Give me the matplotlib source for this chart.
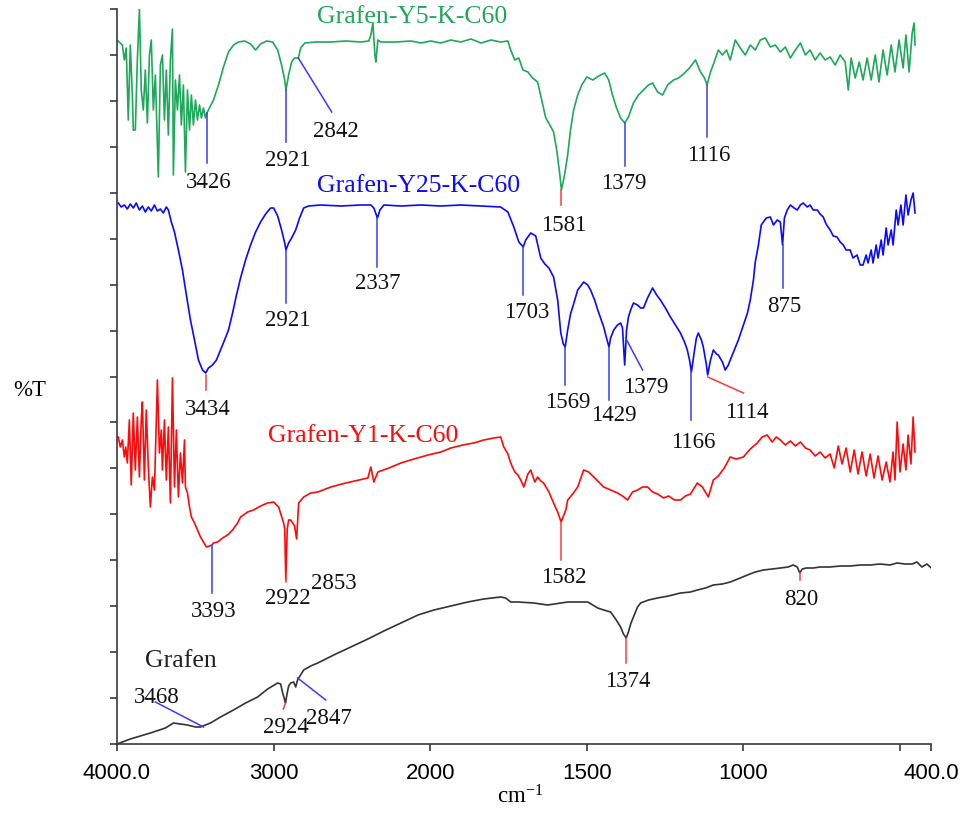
import numpy as np
import matplotlib
matplotlib.use("Agg")
import matplotlib.pyplot as plt

# FTIR spectra, wavenumber (cm-1) and offset transmittance (a.u.)
green_w = [4000, 3979, 3966, 3953, 3941, 3928, 3915, 3902, 3896, 3883, 3870, 3857, 3845, 3832, 3819, 3806,
           3793, 3781, 3768, 3755, 3736, 3723, 3710, 3697, 3685, 3672, 3659, 3646, 3640, 3627, 3614, 3601,
           3589, 3576, 3563, 3550, 3537, 3525, 3512, 3499, 3486, 3473, 3461, 3448, 3435, 3426, 3384, 3352,
           3320, 3288, 3256, 3224, 3185, 3147, 3115, 3083, 3045, 3006, 2974, 2949, 2929, 2921, 2904, 2885,
           2866, 2842, 2827, 2801, 2731, 2635, 2539, 2443, 2392, 2379, 2366, 2353, 2347, 2334, 2315, 2219,
           2123, 2059, 1998, 1966, 1934, 1902, 1870, 1838, 1806, 1775, 1752, 1743, 1730, 1717, 1704, 1688,
           1673, 1657, 1644, 1631, 1618, 1606, 1596, 1586, 1581, 1571, 1561, 1552, 1542, 1529, 1516, 1500,
           1481, 1462, 1443, 1430, 1418, 1405, 1392, 1379, 1367, 1351, 1335, 1319, 1303, 1290, 1274, 1258,
           1242, 1223, 1207, 1191, 1172, 1153, 1137, 1124, 1116, 1105, 1093, 1080, 1067, 1054, 1042, 1026,
           1010, 994, 978, 962, 946, 930, 914, 898, 882, 866, 850, 834, 818, 802, 787, 771,
           755, 739, 723, 707, 691, 675, 665, 656, 643, 630, 618, 605, 592, 579, 567, 554,
           541, 528, 516, 503, 490, 481, 471, 461, 455, 452]
green_t = [704, 701, 699, 684, 696, 624, 699, 649, 614, 614, 684, 735, 654, 634, 674, 621,
           689, 704, 634, 669, 567, 679, 689, 624, 674, 609, 684, 715, 569, 664, 634, 669,
           619, 659, 572, 654, 614, 649, 619, 644, 624, 639, 626, 636, 626, 631, 644, 659,
           677, 692, 699, 702, 703, 700, 694, 700, 703, 702, 694, 679, 664, 654, 669, 682,
           686, 686, 696, 701, 702, 702, 703, 702, 703, 709, 721, 689, 682, 704, 702, 702,
           703, 701, 703, 701, 704, 702, 705, 701, 704, 702, 703, 694, 684, 686, 674, 672,
           666, 662, 644, 626, 619, 612, 594, 569, 554, 569, 589, 614, 634, 649, 659, 667,
           664, 668, 671, 664, 649, 636, 626, 621, 627, 641, 649, 654, 659, 661, 652, 649,
           659, 664, 666, 670, 676, 684, 672, 666, 659, 672, 682, 694, 689, 694, 684, 704,
           696, 689, 699, 694, 704, 706, 697, 699, 692, 697, 686, 694, 701, 689, 694, 684,
           691, 684, 687, 679, 689, 682, 654, 686, 666, 682, 664, 686, 664, 689, 662, 694,
           669, 699, 672, 704, 676, 709, 672, 711, 721, 699]

blue_w = [3992, 3973, 3953, 3934, 3915, 3896, 3877, 3857, 3838, 3819, 3800, 3781, 3761, 3742, 3723, 3704,
          3685, 3672, 3653, 3633, 3608, 3582, 3557, 3531, 3505, 3480, 3454, 3434, 3416, 3390, 3365, 3339,
          3313, 3288, 3262, 3237, 3211, 3179, 3147, 3115, 3083, 3051, 3019, 3000, 2974, 2949, 2929, 2921,
          2904, 2885, 2859, 2834, 2808, 2776, 2699, 2571, 2443, 2379, 2360, 2337, 2321, 2296, 2187, 2059,
          1966, 1902, 1838, 1775, 1752, 1733, 1717, 1703, 1695, 1679, 1663, 1647, 1634, 1621, 1606, 1593,
          1583, 1575, 1569, 1561, 1552, 1545, 1529, 1510, 1497, 1488, 1475, 1465, 1456, 1446, 1437, 1429,
          1424, 1414, 1402, 1392, 1386, 1379, 1373, 1367, 1360, 1351, 1338, 1328, 1319, 1306, 1290, 1277,
          1265, 1249, 1233, 1217, 1201, 1188, 1179, 1172, 1166, 1156, 1150, 1144, 1134, 1128, 1118, 1114,
          1105, 1096, 1086, 1080, 1067, 1058, 1048, 1042, 1029, 1016, 1003, 987, 978, 968, 962, 952,
          943, 936, 927, 914, 904, 892, 882, 875, 869, 860, 850, 838, 828, 818, 809, 796,
          787, 777, 764, 755, 745, 736, 723, 713, 701, 691, 681, 672, 659, 650, 637, 627,
          618, 608, 602, 592, 586, 576, 570, 560, 554, 544, 538, 528, 522, 512, 506, 497,
          490, 481, 474, 465, 458, 452]
blue_t = [541, 537, 539, 535, 540, 536, 541, 534, 538, 532, 537, 533, 539, 533, 535, 531,
          537, 534, 522, 512, 494, 474, 449, 424, 404, 384, 374, 371, 376, 379, 384, 394,
          404, 414, 431, 449, 466, 484, 499, 512, 522, 530, 536, 536, 528, 514, 501, 494,
          501, 506, 514, 526, 536, 538, 539, 538, 539, 539, 536, 526, 534, 539, 538, 539,
          538, 539, 538, 537, 532, 517, 502, 497, 504, 511, 508, 486, 480, 476, 467, 444,
          411, 400, 397, 414, 430, 437, 454, 462, 459, 454, 444, 434, 426, 417, 406, 397,
          406, 414, 419, 421, 416, 379, 414, 427, 434, 441, 439, 436, 436, 446, 456, 449,
          444, 436, 427, 419, 411, 402, 394, 384, 372, 394, 406, 411, 404, 397, 379, 369,
          384, 394, 390, 389, 382, 374, 379, 384, 394, 404, 416, 431, 444, 464, 482, 499,
          519, 522, 526, 527, 519, 524, 522, 499, 526, 534, 539, 536, 534, 539, 541, 537,
          539, 534, 534, 530, 527, 520, 514, 508, 507, 502, 499, 494, 494, 486, 489, 479,
          479, 489, 481, 494, 481, 499, 486, 504, 489, 516, 499, 514, 499, 534, 519, 539,
          519, 549, 529, 544, 551, 531]

red_w = [4000, 3992, 3979, 3966, 3953, 3944, 3934, 3921, 3909, 3896, 3883, 3870, 3857, 3845, 3838, 3825,
         3813, 3800, 3787, 3774, 3761, 3742, 3729, 3717, 3710, 3697, 3685, 3672, 3659, 3646, 3633, 3621,
         3608, 3595, 3582, 3569, 3563, 3550, 3537, 3525, 3505, 3486, 3467, 3448, 3429, 3393, 3384, 3358,
         3326, 3294, 3262, 3230, 3211, 3166, 3128, 3083, 3038, 3000, 2968, 2936, 2929, 2922, 2913, 2904,
         2891, 2866, 2853, 2840, 2808, 2763, 2718, 2635, 2539, 2398, 2379, 2360, 2334, 2264, 2187, 2104,
         2014, 1966, 1934, 1896, 1861, 1829, 1797, 1775, 1765, 1752, 1743, 1730, 1720, 1711, 1701, 1688,
         1679, 1666, 1657, 1647, 1638, 1621, 1606, 1593, 1582, 1567, 1561, 1545, 1529, 1510, 1494, 1478,
         1462, 1446, 1424, 1402, 1386, 1370, 1354, 1338, 1322, 1306, 1290, 1274, 1255, 1239, 1220, 1201,
         1185, 1169, 1147, 1131, 1112, 1096, 1080, 1061, 1042, 1023, 1000, 978, 956, 940, 924, 908,
         895, 882, 866, 850, 834, 818, 802, 787, 771, 755, 739, 723, 710, 697, 685, 672,
         659, 646, 634, 621, 608, 595, 583, 570, 557, 544, 532, 522, 516, 509, 500, 490,
         481, 474, 465, 458, 452]
red_t = [307, 307, 297, 304, 287, 297, 281, 324, 259, 331, 274, 327, 267, 324, 342, 264,
         334, 277, 237, 267, 254, 364, 291, 314, 274, 324, 264, 317, 241, 366, 257, 314,
         247, 291, 261, 304, 257, 251, 237, 227, 221, 214, 207, 202, 197, 199, 201, 202,
         206, 209, 214, 221, 227, 232, 234, 238, 241, 242, 237, 221, 215, 164, 215, 224,
         224, 218, 205, 241, 247, 251, 252, 257, 261, 266, 277, 262, 272, 276, 281, 285,
         289, 292, 296, 299, 301, 304, 306, 307, 297, 290, 281, 272, 269, 264, 257, 270,
         274, 262, 267, 263, 261, 252, 241, 232, 222, 234, 244, 250, 257, 274, 272, 267,
         262, 257, 254, 251, 248, 244, 252, 254, 257, 257, 252, 250, 246, 248, 244, 244,
         248, 250, 261, 257, 247, 264, 268, 276, 287, 285, 287, 295, 301, 307, 309, 302,
         307, 304, 299, 303, 298, 302, 296, 294, 288, 292, 286, 290, 276, 298, 280, 296,
         272, 294, 270, 292, 268, 290, 266, 288, 264, 282, 262, 292, 264, 322, 272, 300,
         274, 309, 280, 327, 292]

black_w = [4000, 3915, 3787, 3691, 3640, 3595, 3550, 3499, 3467, 3435, 3403, 3339, 3256, 3179, 3102, 3038,
           2974, 2955, 2942, 2929, 2924, 2913, 2904, 2891, 2872, 2859, 2847, 2840, 2808, 2763, 2718, 2616,
           2507, 2398, 2296, 2187, 2078, 1988, 1934, 1880, 1829, 1775, 1759, 1743, 1720, 1669, 1625, 1561,
           1497, 1465, 1446, 1424, 1408, 1392, 1383, 1374, 1367, 1360, 1351, 1338, 1328, 1303, 1274, 1239,
           1201, 1169, 1147, 1121, 1096, 1067, 1042, 1010, 987, 962, 936, 908, 882, 857, 841, 828,
           820, 812, 799, 777, 755, 723, 691, 659, 627, 595, 564, 532, 509, 484, 461, 446,
           430, 414, 400]
black_t = [0, 5, 11, 16, 21, 20, 19, 17, 17, 19, 21, 27, 34, 41, 47, 55,
           61, 60, 51, 44, 41, 51, 58, 61, 62, 57, 64, 66, 74, 78, 81, 89,
           97, 105, 113, 121, 129, 134, 138, 142, 145, 147, 146, 142, 142, 141, 139, 142,
           142, 136, 134, 132, 125, 117, 110, 106, 112, 120, 127, 137, 141, 144, 146, 148,
           151, 152, 154, 156, 159, 160, 162, 166, 169, 172, 174, 175, 176, 177, 179, 177,
           171, 175, 176, 176, 177, 177, 178, 178, 179, 179, 180, 179, 181, 180, 180, 182,
           177, 180, 176]

green = "#1ea85a"
blue = "#0a0aff"
red = "#ff0a0a"
mblue = "#3a3aff"
mred = "#ff3a3a"

# peak markers: (x0, y0, x1, y1, colour), labels: (x, y, text)
markers = [
    (3426, 631, 3426, 581, mblue), (2921, 654, 2921, 602, mblue), (2842, 686, 2629, 632, mblue),
    (1581, 554, 1581, 539, mred), (1379, 621, 1379, 578, mblue), (1116, 659, 1116, 607, mblue),
    (3434, 369, 3434, 354, mred), (2921, 494, 2921, 441, mblue), (2337, 526, 2337, 477, mblue),
    (1703, 497, 1703, 449, mblue), (1569, 397, 1569, 359, mblue), (1429, 397, 1429, 344, mblue),
    (1376, 406, 1322, 374, mblue), (1166, 372, 1166, 324, mblue), (1114, 367, 1000, 351, mred),
    (875, 499, 875, 456, mblue),
    (3393, 199, 3393, 151, mblue), (2922, 166, 2922, 162, mred), (1582, 222, 1582, 184, mred),
    (3755, 42, 3448, 17, mblue), (2938, 35, 2924, 41, mred), (2847, 66, 2667, 44, mblue),
    (1374, 106, 1374, 81, mred), (820, 171, 820, 164, mred),
]
labels = [
    (3416, 562, "3426"), (2910, 584, "2921"), (2603, 613, "2842"), (1574, 519, "1581"),
    (1383, 561, "1379"), (1112, 589, "1116"),
    (3422, 335, "3434"), (2910, 424, "2921"), (2334, 461, "2337"), (1692, 432, "1703"),
    (1561, 342, "1569"), (1415, 329, "1429"), (1312, 357, "1379"), (1160, 302, "1166"),
    (990, 332, "1114"), (869, 438, "875"),
    (3384, 133, "3393"), (2910, 146, "2922"), (2616, 161, "2853"), (1574, 167, "1582"),
    (3749, 47, "3468"), (2919, 17, "2924"), (2648, 26, "2847"), (1370, 63, "1374"), (815, 145, "820"),
]
titles = [(2118, 727, "Grafen-Y5-K-C60", green), (2072, 558, "Grafen-Y25-K-C60", blue),
          (2430, 308, "Grafen-Y1-K-C60", red), (3595, 83, "Grafen", "#222222")]


def fwd(w):
    w = np.asarray(w, dtype=float)
    return np.where(w > 2000, 2000 + (w - 2000) / 2.0, w)


def inv(u):
    u = np.asarray(u, dtype=float)
    return np.where(u > 2000, 2000 + (u - 2000) * 2.0, u)


def main():
    plt.rcParams['font.family'] = ['Liberation Serif', 'DejaVu Serif']
    plt.rcParams['mathtext.fontset'] = 'custom'
    plt.rcParams['mathtext.rm'] = 'Liberation Serif'
    plt.rcParams['mathtext.it'] = 'Liberation Serif'

    fig = plt.figure(figsize=(9.68, 8.13), dpi=100)
    ax = fig.add_axes([117 / 968, 1 - 744 / 813, 814.3 / 968, 735 / 813])

    ax.plot(green_w, green_t, color=green, lw=1.2)
    ax.plot(blue_w, blue_t, color=blue, lw=1.2)
    ax.plot(red_w, red_t, color=red, lw=1.2)
    ax.plot(black_w, black_t, color="#333333", lw=1.2)

    for x0, y0, x1, y1, c in markers:
        ax.plot([x0, x1], [y0, y1], color=c, lw=1.1)
    for x, y, s in labels:
        ax.text(x, y, s, ha="center", va="center", fontsize=16.5, color="#111111")
    for x, y, s, c in titles:
        ax.text(x, y, s, ha="center", va="center", fontsize=18.5, color=c)

    ax.set_xscale('function', functions=(fwd, inv))
    ax.set_xlim(4000, 400)
    ax.set_ylim(0, 735)
    ax.set_xticks([4000, 3000, 2000, 1500, 1000, 500, 400])
    ax.set_xticklabels(["4000.0", "3000", "2000", "1500", "1000", "", "400.0"],
                       family="Liberation Sans", fontsize=16)
    ax.xaxis.set_minor_locator(matplotlib.ticker.NullLocator())
    ax.set_yticks(np.linspace(0, 735, 17))
    ax.set_yticklabels([])
    for s in ["top", "right"]:
        ax.spines[s].set_visible(False)
    for s in ["left", "bottom"]:
        ax.spines[s].set_color("#3a3a3a")
        ax.spines[s].set_linewidth(1.2)
    ax.tick_params(direction="out", length=5, width=1.2, color="#3a3a3a", pad=9)

    fig.text(30 / 968, 1 - 390 / 813, "%T", ha="center", va="center", fontsize=16.5)
    fig.text(520 / 968, 1 - 797 / 813, r"cm$^{\mathrm{-1}}$", ha="center", va="center", fontsize=16.5)

    fig.savefig("out.png", dpi=100)


if __name__ == '__main__':
    main()
